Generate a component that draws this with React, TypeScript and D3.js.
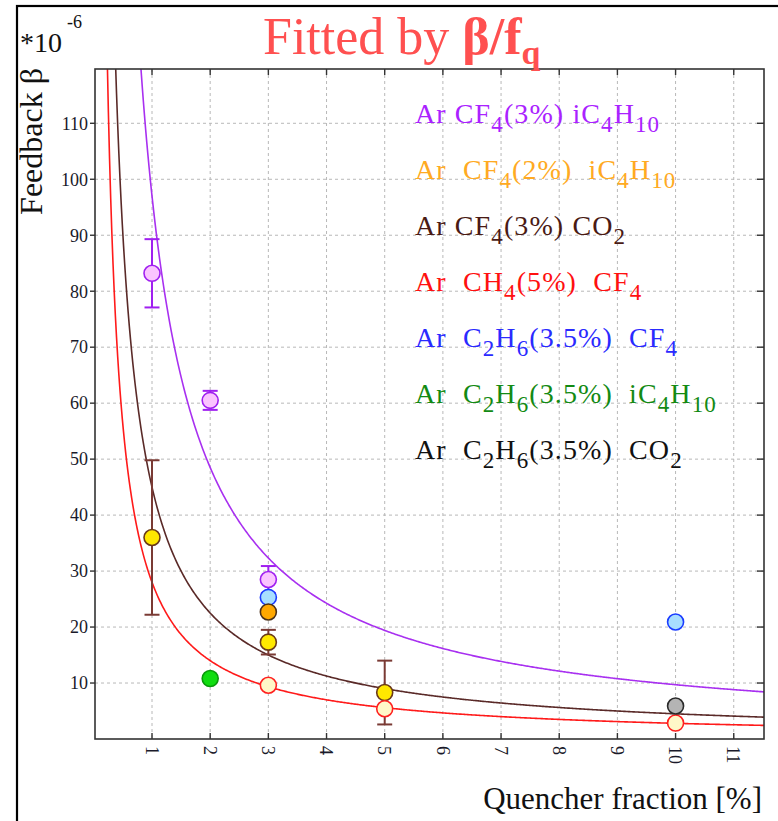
import React from "react";
import * as d3 from "d3";

// ---------- data ----------
const xTicks = [1, 2, 3, 4, 5, 6, 7, 8, 9, 10, 11];
const yTicks = [10, 20, 30, 40, 50, 60, 70, 80, 90, 100, 110];

// fitted curves beta = A / f_q
const fitNames = ["CF4iC4H10", "CF4CO2", "CH4CF4"];
const fitA = [97, 45, 28];
const fitColors = ["#a830f0", "#5a2a28", "#ff1a1a"];

// measured points
const purpleX = [1, 2, 3];
const purpleY = [83.2, 60.5, 28.5];
const purpleErr = [6.1, 1.7, 2.4];

const blueX = [3, 10];
const blueY = [25.3, 20.9];

const orangeX = [3];
const orangeY = [22.7];

const yellowX = [1, 3, 5];
const yellowY = [36.0, 17.3, 8.3];
const yellowErr = [13.8, 2.2, 5.7];

const redX = [3, 5, 10];
const redY = [9.6, 5.4, 2.85];

const greenX = [2];
const greenY = [10.8];

const grayX = [10];
const grayY = [5.9];

const legendLabels = [
  "Ar CF_4(3%) iC_4H_10",
  "Ar  CF_4(2%)  iC_4H_10",
  "Ar CF_4(3%) CO_2",
  "Ar  CH_4(5%)  CF_4",
  "Ar  C_2H_6(3.5%)  CF_4",
  "Ar  C_2H_6(3.5%)  iC_4H_10",
  "Ar  C_2H_6(3.5%)  CO_2",
];
const legendColors = ["#aa22ff", "#ffaa22", "#4a1a14", "#ff1010", "#2a2aff", "#138a13", "#111111"];
const legendYs = [110, 100, 90, 80, 70, 60, 50];

// ---------- layout ----------
const W = 778;
const H = 821;
const L = 95, T = 69, R = 764, B = 739;

const x = d3.scaleLinear().domain([0.02, 11.52]).range([L, R]);
const y = d3.scaleLinear().domain([0, 119.7]).range([B, T]);

function parseSub(s: string) {
  const parts: { t: string; sub: boolean }[] = [];
  const re = /_(\d+)/g;
  let last = 0;
  let m;
  while ((m = re.exec(s)) !== null) {
    if (m.index > last) parts.push({ t: s.slice(last, m.index), sub: false });
    parts.push({ t: m[1], sub: true });
    last = m.index + m[0].length;
  }
  if (last < s.length) parts.push({ t: s.slice(last), sub: false });
  return parts;
}

type Pt = { xs: number[]; ys: number[]; fill: string; stroke: string; err?: number[]; errColor?: string };

const pointSeries: Pt[] = [
  { xs: purpleX, ys: purpleY, fill: "#fbc4ff", stroke: "#a020f0", err: purpleErr, errColor: "#a020f0" },
  { xs: blueX, ys: blueY, fill: "#a8deff", stroke: "#1a3cff" },
  { xs: orangeX, ys: orangeY, fill: "#ffa800", stroke: "#4a3018" },
  { xs: yellowX, ys: yellowY, fill: "#ffe800", stroke: "#6a3a1a", err: yellowErr, errColor: "#7a3a34" },
  { xs: redX, ys: redY, fill: "#fff8c8", stroke: "#ff2020" },
  { xs: greenX, ys: greenY, fill: "#10dd10", stroke: "#0a9a0a" },
  { xs: grayX, ys: grayY, fill: "#b4b4b4", stroke: "#2a2a2a" },
];

const FONT = "Liberation Serif, DejaVu Serif, Times New Roman, serif";
const SUB = 9;

export default function App() {
  const curves = fitA.map((A, i) => {
    const xs = d3.range(0.15, 11.6, 0.02);
    const pts = xs.map((v) => [v, A / v] as [number, number]);
    const p = d3
      .line<[number, number]>()
      .x((d) => x(d[0]))
      .y((d) => y(d[1]))(pts);
    return <path key={fitNames[i]} d={p || ""} fill="none" stroke={fitColors[i]} strokeWidth={1.6} />;
  });

  const ts = { fontFamily: FONT } as React.CSSProperties;

  return (
    <svg width={W} height={H} style={{ position: "absolute", left: 0, top: 0, background: "#fff", fontFamily: FONT }}>
      <defs>
        <clipPath id="plotclip">
          <rect x={L} y={T} width={R - L} height={B - T} />
        </clipPath>
      </defs>
      <rect x={0} y={0} width={W} height={H} fill="#fff" />
      {/* outer frame */}
      <rect x={17} y={6} width={900} height={1000} fill="none" stroke="#000" strokeWidth={2.2} />

      {/* grid */}
      {xTicks.map((t) => (
        <line key={"gx" + t} x1={x(t)} x2={x(t)} y1={T} y2={B} stroke="#b8b8b8" strokeDasharray="3,3" strokeWidth={1} />
      ))}
      {yTicks.map((t) => (
        <line key={"gy" + t} x1={L} x2={R} y1={y(t)} y2={y(t)} stroke="#b8b8b8" strokeDasharray="3,3" strokeWidth={1} />
      ))}

      {/* legend */}
      {legendLabels.map((lab, i) => {
        const parts = parseSub(lab);
        return (
          <text
            key={"lg" + i}
            x={415}
            y={y(legendYs[i])}
            fontSize={28}
            fill={legendColors[i]}
            style={{ ...ts, whiteSpace: "pre", letterSpacing: "1.1px" }}
          >
            {parts.map((p, j) =>
              p.sub ? (
                <tspan key={j} fontSize={23} dy={SUB}>
                  {p.t}
                </tspan>
              ) : (
                <tspan key={j} dy={j > 0 && parts[j - 1].sub ? -SUB : 0}>
                  {p.t}
                </tspan>
              )
            )}
          </text>
        );
      })}

      {/* curves */}
      <g clipPath="url(#plotclip)">{curves}</g>

      {/* error bars and points */}
      {pointSeries.map((s, si) => (
        <g key={"s" + si}>
          {s.err &&
            s.xs.map((xv, k) => {
              const e = s.err![k];
              const cx = x(xv);
              return (
                <g key={"e" + k} stroke={s.errColor} strokeWidth={2}>
                  <line x1={cx} x2={cx} y1={y(s.ys[k] + e)} y2={y(s.ys[k] - e)} />
                  <line x1={cx - 7.5} x2={cx + 7.5} y1={y(s.ys[k] + e)} y2={y(s.ys[k] + e)} />
                  <line x1={cx - 7.5} x2={cx + 7.5} y1={y(s.ys[k] - e)} y2={y(s.ys[k] - e)} />
                </g>
              );
            })}
          {s.xs.map((xv, k) => (
            <circle key={"c" + k} cx={x(xv)} cy={y(s.ys[k])} r={8} fill={s.fill} stroke={s.stroke} strokeWidth={1.6} />
          ))}
        </g>
      ))}

      {/* plot frame */}
      <rect x={L} y={T} width={R - L} height={B - T} fill="none" stroke="#333" strokeWidth={1.6} />

      {/* ticks */}
      {xTicks.map((t) => (
        <g key={"tx" + t} stroke="#333" strokeWidth={1.4}>
          <line x1={x(t)} x2={x(t)} y1={B} y2={B - 6} />
          <line x1={x(t)} x2={x(t)} y1={T} y2={T + 6} />
        </g>
      ))}
      {yTicks.map((t) => (
        <g key={"ty" + t} stroke="#333" strokeWidth={1.4}>
          <line x1={L} x2={L - 5} y1={y(t)} y2={y(t)} />
          <line x1={R} x2={R - 7} y1={y(t)} y2={y(t)} />
        </g>
      ))}

      {/* tick labels */}
      {xTicks.map((t) => (
        <text
          key={"lx" + t}
          transform={`translate(${x(t)},746) rotate(90)`}
          fontSize={18}
          dy="0.35em"
          fill="#1a1a2a"
          style={ts}
        >
          {t}
        </text>
      ))}
      {yTicks.map((t) => (
        <text key={"ly" + t} x={88} y={y(t)} dy="0.35em" fontSize={18} textAnchor="end" fill="#1a1a2a" style={ts}>
          {t}
        </text>
      ))}

      {/* axis titles */}
      <text x={762} y={809} fontSize={31} textAnchor="end" fill="#111" style={ts}>
        Quencher fraction [%]
      </text>
      <text transform="translate(42,68) rotate(-90)" fontSize={32} textAnchor="end" fill="#111" style={ts}>
        Feedback β
      </text>
      <text x={20} y={52} fontSize={28} fill="#111" style={ts}>
        *10
        <tspan fontSize={18} dx={5} dy={-24}>
          -6
        </tspan>
      </text>

      {/* title */}
      <text x={263} y={54} fontSize={52} fill="#ff5050" style={ts}>
        Fitted by <tspan fontWeight="bold">β/f</tspan>
        <tspan fontWeight="bold" fontSize={34} dy={10}>
          q
        </tspan>
      </text>
    </svg>
  );
}
